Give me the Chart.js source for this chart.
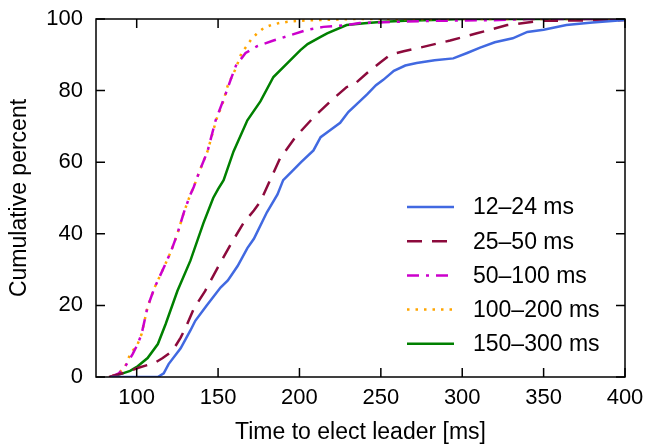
<!DOCTYPE html>
<html>
<head>
<meta charset="utf-8">
<script src="https://cdn.jsdelivr.net/npm/chart.js@4/dist/chart.umd.min.js"></script>
<style>
  html, body { margin: 0; padding: 0; background: #fff; }
  #myChart { display: block; }
</style>
</head>
<body>
<canvas id="myChart" width="645" height="446"></canvas>
<script>
var xTicks = [100, 150, 200, 250, 300, 350, 400];
var yTicks = [0, 20, 40, 60, 80, 100];
var seriesLabels = ['12–24 ms', '25–50 ms', '50–100 ms', '100–200 ms', '150–300 ms'];

// 12-24 ms
var x12 = [84, 113, 116.6, 119.6, 127, 133, 136, 143, 151.5, 156, 162, 168, 172, 180, 186.5, 190, 196, 201, 208.6, 213, 219, 225, 230, 237, 241.7, 247, 251.5, 258, 265, 272, 283, 294.5, 303, 311, 320, 331, 340, 350, 364, 380, 400];
var y12 = [0, 0, 1, 3.6, 8, 13, 15.7, 20, 25, 27, 31, 36, 38.6, 46, 51, 55, 57.7, 60, 63.3, 67, 69, 71, 74, 77, 79, 81.5, 83, 85.5, 87, 87.7, 88.5, 89, 90.5, 92, 93.5, 94.6, 96.4, 97, 98.3, 99, 99.7];
// 25-50 ms
var x25 = [83, 95, 100.6, 108.6, 112, 116, 122, 127, 130, 135, 142, 149.7, 157.7, 165.6, 172, 176, 182, 188, 197.5, 208.6, 219, 229, 233, 241.7, 250, 255.8, 264, 274, 292.6, 309, 327.6, 348, 400];
var y25 = [0, 1.5, 2.5, 3.6, 4.2, 5.3, 7.3, 11, 13.7, 19, 24, 30.5, 37, 43, 46.5, 49, 55, 61, 67, 72.5, 77, 81, 81.5, 85, 88, 90, 91, 92, 94, 96, 98.3, 99.5, 99.7];
// 50-100 ms
var x50 = [84, 89, 93, 97.5, 100.6, 103, 106.7, 111, 116.6, 121, 125, 129, 133, 135, 139, 143.5, 148.5, 154.6, 157.7, 161, 166.9, 174, 184, 194.5, 205, 214.7, 229, 237, 260, 282, 323, 340, 400];
var y50 = [0, 1, 3, 6.4, 9.2, 12, 19.6, 25, 30.5, 35, 40, 46, 51, 53, 58, 63, 71.7, 79, 83, 87, 90.5, 92.4, 94, 95.5, 97, 97.8, 98.3, 98.9, 99.2, 99.5, 99.7, 100, 100];
// 100-200 ms
var x100 = [85, 89, 93, 96, 100.6, 103, 106.7, 111, 116.6, 121, 125, 129, 133, 135, 139, 143.5, 149, 153, 156, 160.7, 164.4, 167.5, 170.5, 173.6, 178, 183, 188, 194, 200.6, 210, 221, 232, 400];
var y100 = [0.3, 1, 3, 6.4, 9.2, 12, 19.6, 25, 30.5, 35, 40, 46, 51, 53, 58, 63, 72, 76.7, 81.5, 86, 90.5, 92.4, 94.4, 95.8, 97.5, 98.4, 98.9, 99.3, 99.5, 99.7, 99.8, 100, 100];
// 150-300 ms
var x150 = [84, 90, 96, 100.6, 106.7, 113, 117.8, 125, 133, 141, 147, 150, 153.4, 159.5, 168, 176, 184, 192.6, 200.6, 205, 213, 217, 229, 240, 251.5, 265, 282, 300, 400];
var y150 = [0, 0.8, 1.7, 3, 5.3, 9.2, 14.8, 24, 32.5, 43, 50, 52.5, 55, 63, 71.7, 77, 83.8, 87.7, 91.3, 93, 95, 96, 98.3, 98.8, 99.2, 99.5, 99.7, 100, 100];

var seriesX = [x12, x25, x50, x100, x150];
var seriesY = [y12, y25, y50, y100, y150];
var colors = ['#4169e1', '#8c0a3c', '#cc00cc', '#ffa500', '#008000'];
var dashes = [[], [15, 10], [12, 7, 3, 7], [2.5, 6], []];

var fontFamily = '"Liberation Sans", Arial, Helvetica, sans-serif';
Chart.defaults.font.family = fontFamily;
Chart.defaults.font.size = 23;
Chart.defaults.color = '#000';

function toPoints(xs, ys) {
    var pts = [];
    for (var i = 0; i < xs.length; i++) {
        pts.push({ x: xs[i], y: ys[i] });
    }
    return pts;
}

var datasets = [];
for (var i = 0; i < seriesLabels.length; i++) {
    datasets.push({
        label: seriesLabels[i],
        data: toPoints(seriesX[i], seriesY[i]),
        borderColor: colors[i],
        backgroundColor: colors[i],
        borderWidth: 2.5,
        borderDash: dashes[i],
        pointRadius: 0,
        tension: 0,
        fill: false
    });
}

// frame with inward ticks on all four sides, like the original
var framePlugin = {
    id: 'frame',
    afterDatasetsDraw: function (chart) {
        var ctx = chart.ctx;
        var a = chart.chartArea;
        var xs = chart.scales.x, ys = chart.scales.y;
        var tl = 9;
        ctx.save();
        ctx.strokeStyle = '#000';
        ctx.lineWidth = 1.5;
        ctx.setLineDash([]);
        ctx.strokeRect(a.left, a.top, a.right - a.left, a.bottom - a.top);
        ctx.beginPath();
        xTicks.forEach(function (v) {
            var px = xs.getPixelForValue(v);
            ctx.moveTo(px, a.bottom); ctx.lineTo(px, a.bottom - tl);
            ctx.moveTo(px, a.top); ctx.lineTo(px, a.top + tl);
        });
        yTicks.forEach(function (v) {
            var py = ys.getPixelForValue(v);
            ctx.moveTo(a.left, py); ctx.lineTo(a.left + tl, py);
            ctx.moveTo(a.right, py); ctx.lineTo(a.right - tl, py);
        });
        ctx.stroke();
        ctx.restore();
    }
};

// legend inside the plot, lower right
var legendPlugin = {
    id: 'insideLegend',
    afterDraw: function (chart) {
        var ctx = chart.ctx;
        ctx.save();
        ctx.font = '23px ' + fontFamily;
        ctx.textBaseline = 'middle';
        ctx.textAlign = 'left';
        chart.data.datasets.forEach(function (ds, i) {
            var y = 207 + i * 34.2;
            ctx.strokeStyle = ds.borderColor;
            ctx.lineWidth = ds.borderWidth;
            ctx.setLineDash(ds.borderDash);
            ctx.beginPath();
            ctx.moveTo(407, y);
            ctx.lineTo(454, y);
            ctx.stroke();
            ctx.fillStyle = '#000';
            ctx.fillText(ds.label, 473, y + 1);
        });
        ctx.restore();
    }
};

new Chart('myChart', {
    type: 'line',
    data: { datasets: datasets },
    options: {
        responsive: false,
        animation: false,
        layout: { padding: { top: 19, right: 20, left: 0, bottom: 0 } },
        plugins: {
            legend: { display: false },
            tooltip: { enabled: false }
        },
        scales: {
            x: {
                type: 'linear',
                min: 75,
                max: 400,
                afterBuildTicks: function (s) { s.ticks = xTicks.map(function (v) { return { value: v }; }); },
                afterFit: function (s) { s.height = 69; s.paddingLeft = 0; s.paddingRight = 0; },
                grid: { display: false, drawTicks: false },
                border: { display: false },
                ticks: { padding: 8, maxRotation: 0, autoSkip: false, font: { size: 22 } },
                title: { display: true, text: 'Time to elect leader [ms]', padding: { top: 0, bottom: 0 } }
            },
            y: {
                type: 'linear',
                min: 0,
                max: 100,
                afterBuildTicks: function (s) { s.ticks = yTicks.map(function (v) { return { value: v }; }); },
                afterFit: function (s) { s.width = 96; s.paddingTop = 0; s.paddingBottom = 0; },
                grid: { display: false, drawTicks: false },
                border: { display: false },
                ticks: { padding: 13, autoSkip: false, font: { size: 22 } },
                title: { display: true, text: 'Cumulative percent', padding: { top: 6, bottom: 0 } }
            }
        }
    },
    plugins: [framePlugin, legendPlugin]
});
</script>
</body>
</html>
